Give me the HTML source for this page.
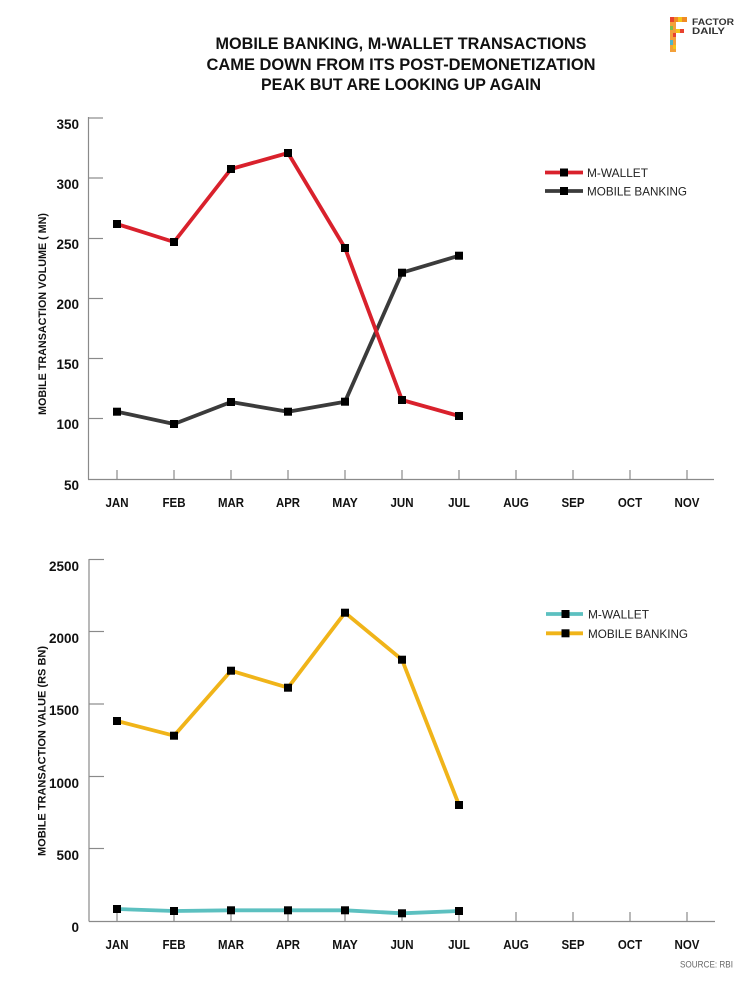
<!DOCTYPE html>
<html>
<head>
<meta charset="utf-8">
<style>
html,body{margin:0;padding:0;background:#fff;}
svg{display:block;}
text{font-family:"Liberation Sans",Arial,sans-serif;}
</style>
</head>
<body>
<svg width="750" height="1000" viewBox="0 0 750 1000" xmlns="http://www.w3.org/2000/svg">
<rect width="750" height="1000" fill="#fff"/>

<!-- Logo -->
<g>
  <rect x="670" y="17" width="17" height="5" fill="#f08a24"/>
  <rect x="670" y="17" width="4" height="5" fill="#e8412e"/>
  <rect x="678" y="17" width="4" height="5" fill="#f5c518"/>
  <rect x="670" y="22" width="6" height="30" fill="#f3a03a"/>
  <rect x="670" y="26" width="3" height="4" fill="#7cc04b"/>
  <rect x="673" y="33" width="3" height="4" fill="#e8412e"/>
  <rect x="670" y="40" width="3" height="5" fill="#4fb6c8"/>
  <rect x="673" y="45" width="3" height="4" fill="#f5c518"/>
  <rect x="676" y="29" width="8" height="4" fill="#f5c518"/>
  <rect x="680" y="29" width="4" height="4" fill="#e8412e"/>
  <text x="692" y="25" font-size="9.5" font-weight="bold" fill="#333" textLength="42" lengthAdjust="spacingAndGlyphs">FACTOR</text>
  <text x="692" y="34" font-size="9.5" font-weight="bold" fill="#333" textLength="33" lengthAdjust="spacingAndGlyphs">DAILY</text>
</g>

<!-- Title -->
<g font-weight="bold" font-size="16.5" fill="#111" text-anchor="middle">
  <text x="401" y="49" textLength="371" lengthAdjust="spacingAndGlyphs">MOBILE BANKING, M-WALLET TRANSACTIONS</text>
  <text x="401" y="70" textLength="389" lengthAdjust="spacingAndGlyphs">CAME DOWN FROM ITS POST-DEMONETIZATION</text>
  <text x="401" y="90" textLength="280" lengthAdjust="spacingAndGlyphs">PEAK BUT ARE LOOKING UP AGAIN</text>
</g>

<!-- ============ TOP CHART ============ -->
<g stroke="#8a8a8a" stroke-width="1.2" fill="none">
  <line x1="88.5" y1="117" x2="88.5" y2="479.5"/>
  <line x1="88" y1="479.5" x2="714" y2="479.5"/>
  <line x1="88" y1="118" x2="103" y2="118"/>
  <line x1="88" y1="178" x2="103" y2="178"/>
  <line x1="88" y1="238.5" x2="103" y2="238.5"/>
  <line x1="88" y1="298.5" x2="103" y2="298.5"/>
  <line x1="88" y1="358.5" x2="103" y2="358.5"/>
  <line x1="88" y1="418.5" x2="103" y2="418.5"/>
  <line x1="117" y1="470" x2="117" y2="479"/>
  <line x1="174" y1="470" x2="174" y2="479"/>
  <line x1="231" y1="470" x2="231" y2="479"/>
  <line x1="288" y1="470" x2="288" y2="479"/>
  <line x1="345" y1="470" x2="345" y2="479"/>
  <line x1="402" y1="470" x2="402" y2="479"/>
  <line x1="459" y1="470" x2="459" y2="479"/>
  <line x1="516" y1="470" x2="516" y2="479"/>
  <line x1="573" y1="470" x2="573" y2="479"/>
  <line x1="630" y1="470" x2="630" y2="479"/>
  <line x1="687" y1="470" x2="687" y2="479"/>
</g>
<g font-weight="bold" font-size="13.5" fill="#111" text-anchor="end">
  <text x="79" y="129">350</text>
  <text x="79" y="189">300</text>
  <text x="79" y="249">250</text>
  <text x="79" y="309">200</text>
  <text x="79" y="369">150</text>
  <text x="79" y="429">100</text>
  <text x="79" y="490">50</text>
</g>
<g font-weight="bold" font-size="13" fill="#111" text-anchor="middle">
  <text x="117" y="507" textLength="23" lengthAdjust="spacingAndGlyphs">JAN</text>
  <text x="174" y="507" textLength="23" lengthAdjust="spacingAndGlyphs">FEB</text>
  <text x="231" y="507" textLength="26" lengthAdjust="spacingAndGlyphs">MAR</text>
  <text x="288" y="507" textLength="24" lengthAdjust="spacingAndGlyphs">APR</text>
  <text x="345" y="507" textLength="25.6" lengthAdjust="spacingAndGlyphs">MAY</text>
  <text x="402" y="507" textLength="23" lengthAdjust="spacingAndGlyphs">JUN</text>
  <text x="459" y="507" textLength="21.7" lengthAdjust="spacingAndGlyphs">JUL</text>
  <text x="516" y="507" textLength="25.6" lengthAdjust="spacingAndGlyphs">AUG</text>
  <text x="573" y="507" textLength="23" lengthAdjust="spacingAndGlyphs">SEP</text>
  <text x="630" y="507" textLength="24.3" lengthAdjust="spacingAndGlyphs">OCT</text>
  <text x="687" y="507" textLength="25" lengthAdjust="spacingAndGlyphs">NOV</text>
</g>
<text transform="translate(46,314) rotate(-90)" text-anchor="middle" font-weight="bold" font-size="11" fill="#111" textLength="202" lengthAdjust="spacingAndGlyphs">MOBILE  TRANSACTION VOLUME ( MN)</text>

<polyline fill="none" stroke="#3b3b3b" stroke-width="3.8" stroke-linejoin="round"
  points="117,411.7 174,424 231,402 288,411.7 345,401.7 402,272.7 459,255.7"/>
<polyline fill="none" stroke="#d9212c" stroke-width="3.8" stroke-linejoin="round"
  points="117,224 174,242 231,169 288,153 345,248 402,400 459,416"/>
<g fill="#000">
  <rect x="113" y="407.7" width="8" height="8"/>
  <rect x="170" y="420" width="8" height="8"/>
  <rect x="227" y="398" width="8" height="8"/>
  <rect x="284" y="407.7" width="8" height="8"/>
  <rect x="341" y="397.7" width="8" height="8"/>
  <rect x="398" y="268.7" width="8" height="8"/>
  <rect x="455" y="251.7" width="8" height="8"/>
  <rect x="113" y="220" width="8" height="8"/>
  <rect x="170" y="238" width="8" height="8"/>
  <rect x="227" y="165" width="8" height="8"/>
  <rect x="284" y="149" width="8" height="8"/>
  <rect x="341" y="244" width="8" height="8"/>
  <rect x="398" y="396" width="8" height="8"/>
  <rect x="455" y="412" width="8" height="8"/>
</g>

<!-- top legend -->
<line x1="545" y1="172.5" x2="583" y2="172.5" stroke="#d9212c" stroke-width="3.8"/>
<rect x="560" y="168.5" width="8" height="8" fill="#000"/>
<text x="587" y="177" font-size="12" fill="#222" textLength="61" lengthAdjust="spacingAndGlyphs">M-WALLET</text>
<line x1="545" y1="191" x2="583" y2="191" stroke="#3b3b3b" stroke-width="3.8"/>
<rect x="560" y="187" width="8" height="8" fill="#000"/>
<text x="587" y="195.5" font-size="12" fill="#222" textLength="100" lengthAdjust="spacingAndGlyphs">MOBILE BANKING</text>

<!-- ============ BOTTOM CHART ============ -->
<g stroke="#8a8a8a" stroke-width="1.2" fill="none">
  <line x1="89" y1="559" x2="89" y2="921.5"/>
  <line x1="89" y1="921.5" x2="715" y2="921.5"/>
  <line x1="89" y1="559.5" x2="104" y2="559.5"/>
  <line x1="89" y1="631.5" x2="104" y2="631.5"/>
  <line x1="89" y1="704" x2="104" y2="704"/>
  <line x1="89" y1="776.5" x2="104" y2="776.5"/>
  <line x1="89" y1="848.5" x2="104" y2="848.5"/>
  <line x1="117" y1="912" x2="117" y2="921"/>
  <line x1="174" y1="912" x2="174" y2="921"/>
  <line x1="231" y1="912" x2="231" y2="921"/>
  <line x1="288" y1="912" x2="288" y2="921"/>
  <line x1="345" y1="912" x2="345" y2="921"/>
  <line x1="402" y1="912" x2="402" y2="921"/>
  <line x1="459" y1="912" x2="459" y2="921"/>
  <line x1="516" y1="912" x2="516" y2="921"/>
  <line x1="573" y1="912" x2="573" y2="921"/>
  <line x1="630" y1="912" x2="630" y2="921"/>
  <line x1="687" y1="912" x2="687" y2="921"/>
</g>
<g font-weight="bold" font-size="13.5" fill="#111" text-anchor="end">
  <text x="79" y="571">2500</text>
  <text x="79" y="643">2000</text>
  <text x="79" y="715">1500</text>
  <text x="79" y="788">1000</text>
  <text x="79" y="860">500</text>
  <text x="79" y="932">0</text>
</g>
<g font-weight="bold" font-size="13" fill="#111" text-anchor="middle">
  <text x="117" y="949" textLength="23" lengthAdjust="spacingAndGlyphs">JAN</text>
  <text x="174" y="949" textLength="23" lengthAdjust="spacingAndGlyphs">FEB</text>
  <text x="231" y="949" textLength="26" lengthAdjust="spacingAndGlyphs">MAR</text>
  <text x="288" y="949" textLength="24" lengthAdjust="spacingAndGlyphs">APR</text>
  <text x="345" y="949" textLength="25.6" lengthAdjust="spacingAndGlyphs">MAY</text>
  <text x="402" y="949" textLength="23" lengthAdjust="spacingAndGlyphs">JUN</text>
  <text x="459" y="949" textLength="21.7" lengthAdjust="spacingAndGlyphs">JUL</text>
  <text x="516" y="949" textLength="25.6" lengthAdjust="spacingAndGlyphs">AUG</text>
  <text x="573" y="949" textLength="23" lengthAdjust="spacingAndGlyphs">SEP</text>
  <text x="630" y="949" textLength="24.3" lengthAdjust="spacingAndGlyphs">OCT</text>
  <text x="687" y="949" textLength="25" lengthAdjust="spacingAndGlyphs">NOV</text>
</g>
<text transform="translate(45.5,751) rotate(-90)" text-anchor="middle" font-weight="bold" font-size="11" fill="#111" textLength="210" lengthAdjust="spacingAndGlyphs">MOBILE  TRANSACTION VALUE (RS BN)</text>

<polyline fill="none" stroke="#5cc0c0" stroke-width="3.8" stroke-linejoin="round"
  points="117,909 174,911 231,910.3 288,910.3 345,910.3 402,913.3 459,911"/>
<polyline fill="none" stroke="#f0b419" stroke-width="3.8" stroke-linejoin="round"
  points="117,721 174,735.7 231,670.7 288,687.7 345,612.7 402,659.7 459,805"/>
<g fill="#000">
  <rect x="113" y="905" width="8" height="8"/>
  <rect x="170" y="907" width="8" height="8"/>
  <rect x="227" y="906.3" width="8" height="8"/>
  <rect x="284" y="906.3" width="8" height="8"/>
  <rect x="341" y="906.3" width="8" height="8"/>
  <rect x="398" y="909.3" width="8" height="8"/>
  <rect x="455" y="907" width="8" height="8"/>
  <rect x="113" y="717" width="8" height="8"/>
  <rect x="170" y="731.7" width="8" height="8"/>
  <rect x="227" y="666.7" width="8" height="8"/>
  <rect x="284" y="683.7" width="8" height="8"/>
  <rect x="341" y="608.7" width="8" height="8"/>
  <rect x="398" y="655.7" width="8" height="8"/>
  <rect x="455" y="801" width="8" height="8"/>
</g>

<!-- bottom legend -->
<line x1="546" y1="614" x2="583" y2="614" stroke="#5cc0c0" stroke-width="3.8"/>
<rect x="561.5" y="610" width="8" height="8" fill="#000"/>
<text x="588" y="618.5" font-size="12" fill="#222" textLength="61" lengthAdjust="spacingAndGlyphs">M-WALLET</text>
<line x1="546" y1="633.3" x2="583" y2="633.3" stroke="#f0b419" stroke-width="3.8"/>
<rect x="561.5" y="629.3" width="8" height="8" fill="#000"/>
<text x="588" y="638" font-size="12" fill="#222" textLength="100" lengthAdjust="spacingAndGlyphs">MOBILE BANKING</text>

<!-- source -->
<text x="733" y="967.5" text-anchor="end" font-size="9" fill="#666" textLength="53" lengthAdjust="spacingAndGlyphs">SOURCE: RBI</text>
</svg>
</body>
</html>
